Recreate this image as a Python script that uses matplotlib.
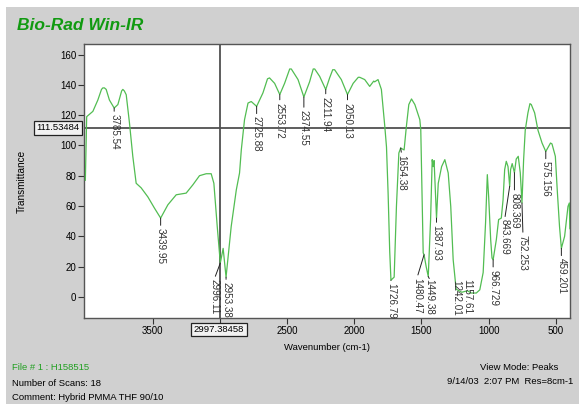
#! /usr/bin/env python
# -*- coding: utf-8 -*-
## IR spectrum plot with peak picks and cursor readout.
import numpy as np
import matplotlib
matplotlib.use('Agg')
from matplotlib import pyplot as plt
from matplotlib.patches import Rectangle

plt.rcParams['font.family'] = ['Liberation Sans', 'DejaVu Sans']

# spectrum, wavenumber (cm-1) descending, transmittance
wavenumber = [4000, 3990, 3944, 3907, 3880, 3870, 3858, 3845, 3821, 3785.54, 3758, 3730,
              3721, 3710, 3696, 3672, 3647, 3622, 3585, 3535, 3486, 3439.95, 3386, 3324,
              3250, 3200, 3151, 3101, 3064, 3044, 3019, 2996.11, 2975, 2953.38,
              2915, 2877, 2853, 2840, 2816, 2790, 2766, 2725.88, 2679, 2645, 2630,
              2592, 2553.72, 2518, 2480, 2468, 2418, 2374.55, 2332, 2305, 2294, 2257, 2211.94,
              2183, 2160, 2146, 2096, 2050.13, 2008, 1970, 1959, 1922, 1885, 1855, 1848, 1823,
              1798, 1773, 1760, 1748, 1736, 1726.79, 1703, 1686, 1668, 1654.38,
              1629, 1612, 1594, 1574, 1549, 1512, 1505, 1487, 1480.47, 1465,
              1449.38, 1432, 1420, 1413, 1406, 1387.93, 1375, 1350, 1326, 1301,
              1282, 1264, 1242.01, 1200, 1157.61, 1130, 1092, 1066, 1041, 1023,
              1010, 1000, 985, 975, 966.729, 943, 926, 906, 893, 881,
              869, 856, 843.669, 837, 825, 808.369, 795, 780, 765, 752.253,
              740, 728, 708, 693, 683, 658, 633, 603, 575.156, 540, 529, 504,
              490, 473, 459.201, 435, 410, 400, 396]
transmittance = [77, 119, 122.5, 130, 137, 138, 138, 137, 130, 124.7, 127, 136,
                 137, 136, 133.5, 115, 92.8, 75, 72, 66, 58.6, 52, 60.8, 67.4,
                 68.5, 74, 80, 81.3, 81.3, 75, 46.5, 22.3, 32, 13,
                 46.5, 70.7, 81.8, 97, 117, 128, 129, 125.8, 134.7, 144, 144.6,
                 141, 133.6, 141, 150.5, 150.5, 143.5, 132, 142, 150.5, 150.5, 145.6, 136.9,
                 144.6, 150, 150, 143.5, 133.6, 141, 145, 145, 143.5, 139, 142.5, 142, 143.5,
                 137, 113, 99, 68.5, 30, 11, 13, 59.7, 95, 98.3,
                 97, 112.6, 127, 130.7, 127, 117, 110.4, 29, 27.8, 20,
                 13.4, 51, 90.6, 86, 90, 52, 75, 86, 90.6, 81.8,
                 59.7, 24.5, 5, 3, 4, 2.5, 2.5, 4.6, 16, 49,
                 80.7, 66, 37.7, 25.6, 24.5, 37.7, 51, 52, 64, 84,
                 89.5, 86, 73, 84, 88, 82, 91, 92.8, 82, 62,
                 90.6, 110, 121.5, 127.6, 127, 121.5, 110, 101.6, 96, 101.6, 101, 92.8,
                 70.7, 46.5, 32, 40, 59.7, 62, 45]

# picked peaks and where their labels sit (pixels right / down from the peak)
peaks = [3785.54, 3439.95, 2996.11, 2953.38, 2725.88, 2553.72, 2374.55, 2211.94,
         2050.13, 1726.79, 1654.38, 1480.47, 1449.38, 1387.93, 1242.01, 1157.61,
         966.729, 843.669, 808.369, 752.253, 575.156, 459.201]
label_dx = [0, 0, -6, 0, 0, 0, 0, 0, 0, 0, 1, -7, 1, 0, 0, 0, 0, -5, 0, 1, 0, 0]
label_dy = [6, 10, 16, 5, 10, 8, 13, 7, 8, 3, 7, 23, 2, 7, -9, -12, 10, 33, 20, 32, 10, 10]

cursor_wn = 2997.38458
cursor_t = 111.53484

green = '#52bd52'
W, H = 579, 404
fig = plt.figure(figsize=(W / 100.0, H / 100.0), dpi=100, facecolor='white')
fig.patches.append(Rectangle((6.0 / W, 0), 1 - 6.0 / W, 1 - 7.0 / H, transform=fig.transFigure,
                             facecolor='#d0d0d0', edgecolor='none', zorder=-5))

ax = fig.add_axes([84.0 / W, 1 - 318.0 / H, 486.0 / W, 274.0 / H])
ax.set_zorder(1)
ax.set_facecolor('white')
ax.plot(wavenumber, transmittance, color=green, lw=0.9, zorder=3)
ax.set_xlim(4010, 395)
ax.set_ylim(-14, 167)

ax.set_xticks([3500, 3000, 2500, 2000, 1500, 1000, 500])
ax.set_xticklabels(['3500', '', '2500', '2000', '1500', '1000', '500'])
ax.set_yticks(range(0, 161, 20))
ax.tick_params(labelsize=7, length=4, width=0.8, color='#333333', pad=1.5)
for s in ax.spines.values():
    s.set_color('#555555')
    s.set_linewidth(1.0)

ax.set_xlabel('Wavenumber (cm-1)', fontsize=6.8, labelpad=5.5)
ax.set_ylabel('Transmittance', fontsize=7.2, labelpad=24)

# cursor cross-hair
ax.axhline(cursor_t, color='#505050', lw=1.3, zorder=2)
ax.axvline(cursor_wn, color='#505050', lw=1.3, zorder=2)

# peak labels
wn_up = np.array(wavenumber[::-1])
t_up = np.array(transmittance[::-1])
for p, dx, dy in zip(peaks, label_dx, label_dy):
    t = np.interp(p, wn_up, t_up)
    arrow = None
    if dy > 0:
        arrow = dict(arrowstyle='-', color='#222222', lw=0.7, shrinkA=0, shrinkB=0,
                     relpos=(0.5, 1.0))
    ax.annotate('{0:.6g}'.format(p), xy=(p, t), xytext=(dx, -dy),
                textcoords='offset pixels', rotation=-90, ha='center', va='top',
                fontsize=7.1, color='#333333', arrowprops=arrow, zorder=4,
                annotation_clip=False)

# cursor readouts
box = dict(boxstyle='square,pad=0.25', facecolor='#f2f2f2', edgecolor='#222222', lw=0.9)
fig.text(58.0 / W, 1 - 128.0 / H, '{0:.5f}'.format(cursor_t), fontsize=6.8,
         ha='center', va='center', bbox=box, zorder=5)
fig.text(219.0 / W, 1 - 329.5 / H, '{0:.5f}'.format(cursor_wn), fontsize=6.8,
         ha='center', va='center', bbox=box, zorder=5)

fig.text(17.0 / W, 1 - 25.0 / H, 'Bio-Rad Win-IR', fontsize=12.5, fontweight='bold',
         fontstyle='italic', color='#119a11', va='center')

fig.text(12.0 / W, 1 - 367.0 / H, 'File # 1 : H158515', fontsize=6.8, color='#22a022', va='center')
fig.text(12.0 / W, 1 - 383.0 / H, 'Number of Scans: 18', fontsize=6.8, va='center')
fig.text(12.0 / W, 1 - 398.0 / H, 'Comment: Hybrid PMMA THF 90/10', fontsize=6.8, va='center')
fig.text(558.0 / W, 1 - 367.0 / H, 'View Mode: Peaks', fontsize=6.8, ha='right', va='center')
fig.text(573.0 / W, 1 - 382.0 / H, '9/14/03  2:07 PM  Res=8cm-1', fontsize=6.8,
         ha='right', va='center')

fig.savefig('out.png', dpi=100, facecolor=fig.get_facecolor())
